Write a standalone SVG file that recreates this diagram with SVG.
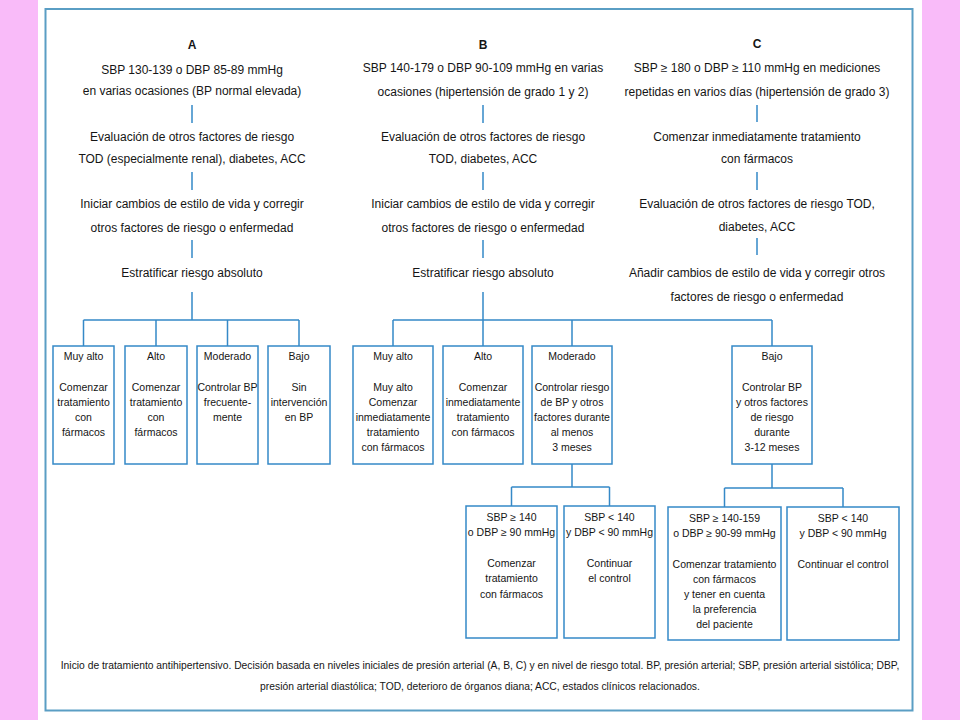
<svg xmlns="http://www.w3.org/2000/svg" width="960" height="720" viewBox="0 0 960 720">
<style>
text{font-family:"Liberation Sans",Arial,sans-serif;fill:#151515;text-anchor:middle}
.m{font-size:12px}
.h{font-size:12px;font-weight:bold}
.b{font-size:10.5px}
.c{font-size:10.3px}
.box{fill:#fff;stroke:#3589c7;stroke-width:1.5}
.ln{fill:none;stroke:#3589c7;stroke-width:1.5}
</style>
<rect x="0" y="0" width="960" height="720" fill="#f9bbf9"/>
<rect x="38" y="0" width="884" height="720" fill="#ffffff"/>
<rect x="45.5" y="9" width="867" height="701.5" fill="none" stroke="#5a9ec4" stroke-width="2"/>

<g id="connectors" class="ln">
<path d="M192 105V123M192 172V190M192 240V258M192 292V320"/>
<path d="M83.5 320H299M83.5 320V346M156 320V346M227.5 320V346M299 320V346"/>
<path d="M483 105V123M483 172V190M483 240V258M483 292V320"/>
<path d="M393 320H772M393 320V346M483 320V346M572 320V346M772 320V346"/>
<path d="M757 105V122M757 172V190M757 238V255"/>
<path d="M572 464V487M511.5 487H609.5M511.5 487V506M609.5 487V506"/>
<path d="M772 464V488M724.5 488H843M724.5 488V507M843 488V507"/>
</g>

<g id="colA">
<text class="h" x="192" y="49">A</text>
<text class="m" x="192" y="74">SBP 130-139 o DBP 85-89 mmHg</text>
<text class="m" x="192" y="95">en varias ocasiones (BP normal elevada)</text>
<text class="m" x="192" y="141">Evaluación de otros factores de riesgo</text>
<text class="m" x="192" y="163">TOD (especialmente renal), diabetes, ACC</text>
<text class="m" x="192" y="208">Iniciar cambios de estilo de vida y corregir</text>
<text class="m" x="192" y="232">otros factores de riesgo o enfermedad</text>
<text class="m" x="192" y="277">Estratificar riesgo absoluto</text>
</g>
<g id="colB">
<text class="h" x="483" y="49">B</text>
<text class="m" x="483" y="72">SBP 140-179 o DBP 90-109 mmHg en varias</text>
<text class="m" x="483" y="96">ocasiones (hipertensión de grado 1 y 2)</text>
<text class="m" x="483" y="141">Evaluación de otros factores de riesgo</text>
<text class="m" x="483" y="163">TOD, diabetes, ACC</text>
<text class="m" x="483" y="208">Iniciar cambios de estilo de vida y corregir</text>
<text class="m" x="483" y="232">otros factores de riesgo o enfermedad</text>
<text class="m" x="483" y="277">Estratificar riesgo absoluto</text>
</g>
<g id="colC">
<text class="h" x="757" y="48">C</text>
<text class="m" x="757" y="72">SBP ≥ 180 o DBP ≥ 110 mmHg en mediciones</text>
<text class="m" x="757" y="96">repetidas en varios días (hipertensión de grado 3)</text>
<text class="m" x="757" y="141">Comenzar inmediatamente tratamiento</text>
<text class="m" x="757" y="163">con fármacos</text>
<text class="m" x="757" y="208">Evaluación de otros factores de riesgo TOD,</text>
<text class="m" x="757" y="231">diabetes, ACC</text>
<text class="m" x="757" y="277">Añadir cambios de estilo de vida y corregir otros</text>
<text class="m" x="757" y="301">factores de riesgo o enfermedad</text>
</g>

<g id="A1"><rect class="box" x="53" y="346" width="61" height="118"/>
<text class="b" x="83.5" y="360">Muy alto</text>
<text class="b" x="83.5" y="391">Comenzar</text><text class="b" x="83.5" y="406">tratamiento</text><text class="b" x="83.5" y="421">con</text><text class="b" x="83.5" y="436">fármacos</text></g>
<g id="A2"><rect class="box" x="125" y="346" width="62" height="118"/>
<text class="b" x="156" y="360">Alto</text>
<text class="b" x="156" y="391">Comenzar</text><text class="b" x="156" y="406">tratamiento</text><text class="b" x="156" y="421">con</text><text class="b" x="156" y="436">fármacos</text></g>
<g id="A3"><rect class="box" x="197" y="346" width="61" height="118"/>
<text class="b" x="227.5" y="360">Moderado</text>
<text class="b" x="227.5" y="391">Controlar BP</text><text class="b" x="227.5" y="406">frecuente-</text><text class="b" x="227.5" y="421">mente</text></g>
<g id="A4"><rect class="box" x="268" y="346" width="62" height="118"/>
<text class="b" x="299" y="360">Bajo</text>
<text class="b" x="299" y="391">Sin</text><text class="b" x="299" y="406">intervención</text><text class="b" x="299" y="421">en BP</text></g>

<g id="B1"><rect class="box" x="353" y="346" width="80" height="118"/>
<text class="b" x="393" y="360">Muy alto</text>
<text class="b" x="393" y="391">Muy alto</text><text class="b" x="393" y="406">Comenzar</text><text class="b" x="393" y="421">inmediatamente</text><text class="b" x="393" y="436">tratamiento</text><text class="b" x="393" y="451">con fármacos</text></g>
<g id="B2"><rect class="box" x="443" y="346" width="80" height="118"/>
<text class="b" x="483" y="360">Alto</text>
<text class="b" x="483" y="391">Comenzar</text><text class="b" x="483" y="406">inmediatamente</text><text class="b" x="483" y="421">tratamiento</text><text class="b" x="483" y="436">con fármacos</text></g>
<g id="B3"><rect class="box" x="532" y="346" width="80" height="118"/>
<text class="b" x="572" y="360">Moderado</text>
<text class="b" x="572" y="391">Controlar riesgo</text><text class="b" x="572" y="406">de BP y otros</text><text class="b" x="572" y="421">factores durante</text><text class="b" x="572" y="436">al menos</text><text class="b" x="572" y="451">3 meses</text></g>
<g id="B4"><rect class="box" x="732" y="346" width="80" height="118"/>
<text class="b" x="772" y="360">Bajo</text>
<text class="b" x="772" y="391">Controlar BP</text><text class="b" x="772" y="406">y otros factores</text><text class="b" x="772" y="421">de riesgo</text><text class="b" x="772" y="436">durante</text><text class="b" x="772" y="451">3-12 meses</text></g>

<g id="S1"><rect class="box" x="466" y="506" width="91" height="132"/>
<text class="b" x="511.5" y="520.5">SBP ≥ 140</text><text class="b" x="511.5" y="536">o DBP ≥ 90 mmHg</text>
<text class="b" x="511.5" y="567">Comenzar</text><text class="b" x="511.5" y="582">tratamiento</text><text class="b" x="511.5" y="597.5">con fármacos</text></g>
<g id="S2"><rect class="box" x="564" y="506" width="91" height="132"/>
<text class="b" x="609.5" y="520.5">SBP &lt; 140</text><text class="b" x="609.5" y="536">y DBP &lt; 90 mmHg</text>
<text class="b" x="609.5" y="567">Continuar</text><text class="b" x="609.5" y="582">el control</text></g>
<g id="T1"><rect class="box" x="668" y="507" width="113" height="133"/>
<text class="b" x="724.5" y="521.5">SBP ≥ 140-159</text><text class="b" x="724.5" y="537">o DBP ≥ 90-99 mmHg</text>
<text class="b" x="724.5" y="568">Comenzar tratamiento</text><text class="b" x="724.5" y="583">con fármacos</text><text class="b" x="724.5" y="598">y tener en cuenta</text><text class="b" x="724.5" y="613">la preferencia</text><text class="b" x="724.5" y="628">del paciente</text></g>
<g id="T2"><rect class="box" x="787" y="507" width="112" height="133"/>
<text class="b" x="843" y="521.5">SBP &lt; 140</text><text class="b" x="843" y="537">y DBP &lt; 90 mmHg</text>
<text class="b" x="843" y="568">Continuar el control</text></g>

<g id="caption">
<text class="c" x="480" y="668.5">Inicio de tratamiento antihipertensivo. Decisión basada en niveles iniciales de presión arterial (A, B, C) y en nivel de riesgo total. BP, presión arterial; SBP, presión arterial sistólica; DBP,</text>
<text class="c" x="480" y="689.5">presión arterial diastólica; TOD, deterioro de órganos diana; ACC, estados clínicos relacionados.</text>
</g>
</svg>
